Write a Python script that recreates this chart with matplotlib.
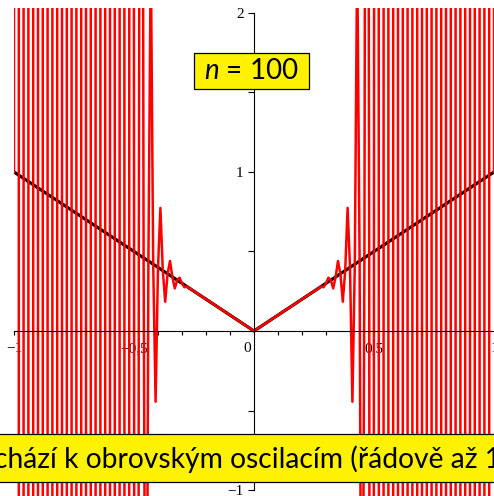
"""Interpolation of |x| on 101 equidistant nodes (n = 100) - Runge oscillations."""

import numpy as np
import matplotlib.pyplot as plt
from matplotlib.patches import Rectangle
from matplotlib.ticker import MultipleLocator, FixedLocator

plt.rcParams["mathtext.fontset"] = "custom"
plt.rcParams["mathtext.it"] = "Lato:italic"
plt.rcParams["mathtext.rm"] = "Lato"

# exact function |x|
black_x = [-1.0, 0.0, 1.0]
black_y = [1.0, 0.0, 1.0]

# interpolation nodes on the left half (the red curve crosses |x| there)
node_x = [-1.00, -0.98, -0.96, -0.94, -0.92, -0.90, -0.88, -0.86, -0.84, -0.82,
          -0.80, -0.78, -0.76, -0.74, -0.72, -0.70, -0.68, -0.66, -0.64, -0.62,
          -0.60, -0.58, -0.56, -0.54, -0.52, -0.50, -0.48, -0.46, -0.44, -0.42,
          -0.40, -0.38, -0.36, -0.34, -0.32, -0.30, -0.28]
# extremes of the polynomial between neighbouring nodes (far ones are off-screen)
peak_y = [900, -900, 900, -900, 900, -900, 900, -900, 900, -900,
          900, -900, 900, -900, 900, -900, 900, -900, 900, -900,
          900, -480, 220, -100, 45, -20, 9, -3.6, 2.4,
          -0.445, 0.774, 0.184, 0.44, 0.268, 0.335, 0.275]

xtick_labels = ["\u22121", "\u22120,5", "", "0,5", "1"]
ytick_labels = ["\u22121", "2", "1"]
banner_text = "chází k obrovským oscilacím (řádově až 10"

# build the left half of the red curve
node_x = np.array(node_x)
node_y = np.interp(node_x, black_x, black_y)
mid_x = (node_x[:-1] + node_x[1:]) / 2
left_x, left_y = [node_x[0]], [node_y[0]]
for mx, py, nx, ny in zip(mid_x, peak_y, node_x[1:], node_y[1:]):
    left_x += [mx, nx]
    left_y += [py, ny]
left_x.append(0.0)
left_y.append(0.0)
# the polynomial is even -> mirror for the right half
red_x = np.concatenate([left_x, -np.array(left_x[::-1])])
red_y = np.concatenate([left_y, left_y[::-1]])

W, H = 494, 496
fig = plt.figure(figsize=(W / 100, H / 100), dpi=100)
ax = fig.add_axes([14 / W, 0, 480 / W, 488 / H])
ax.set_xlim(-1, 1)
ax.set_ylim(-1.0377, 2.0314)

ax.plot(black_x, black_y, color="black", lw=2.3, zorder=2)
ax.plot(red_x, red_y, color="red", lw=1.8, zorder=3)

for side in ("top", "right"):
    ax.spines[side].set_visible(False)
ax.spines["left"].set_position(("data", 0))
ax.spines["bottom"].set_position(("data", 0))
ax.spines["left"].set_bounds(-1, 2)
ax.spines["bottom"].set_bounds(-1, 1)
for side in ("left", "bottom"):
    ax.spines[side].set_linewidth(0.8)
    ax.spines[side].set_zorder(4)

ax.xaxis.set_major_locator(FixedLocator([-1, -0.5, 0, 0.5, 1]))
ax.xaxis.set_minor_locator(MultipleLocator(0.1))
ax.set_xticklabels(xtick_labels)
ax.yaxis.set_major_locator(FixedLocator([-1, 2, 1]))
ax.yaxis.set_minor_locator(MultipleLocator(0.5))
ax.set_yticklabels(ytick_labels)
ax.tick_params(axis="x", which="both", length=3, width=0.8, pad=5)
ax.tick_params(axis="y", which="both", length=4.5, width=0.8, pad=3)
for lab in ax.get_xticklabels() + ax.get_yticklabels():
    lab.set_fontfamily("Liberation Serif")
    lab.set_fontsize(11)
ax.annotate("0", xy=(0, 0), xytext=(-7, -17), textcoords="offset pixels",
            ha="center", va="center", fontsize=11, family="Liberation Serif")

# "n = 100" label box
fig.add_artist(Rectangle((194 / W, 1 - 89 / H), 115 / W, 36 / H,
                         transform=fig.transFigure, facecolor="#fff200",
                         edgecolor="black", lw=0.9, zorder=10))
fig.text(251.5 / W, 1 - 71 / H, r"$n$ = 100", ha="center", va="center",
         fontsize=20, family="Lato", zorder=11)

# bottom banner (text cut off on both sides)
fig.add_artist(Rectangle((-2 / W, 1 - 482 / H), 500 / W, 48 / H,
                         transform=fig.transFigure, facecolor="#fff200",
                         edgecolor="black", lw=0.9, zorder=10))
# size the font so that "... až 1" spans the width seen in the reference
renderer = fig.canvas.get_renderer()
probe = fig.text(0, 0, banner_text[:-1], fontsize=23, family="Lato")
probe_w = probe.get_window_extent(renderer).width
probe.remove()
size = 23 * 508 / probe_w
fig.text(-6 / W, 1 - 459 / H, banner_text, ha="left", va="center",
         fontsize=size, family="Lato", zorder=11)

fig.savefig("out.png", dpi=100)
